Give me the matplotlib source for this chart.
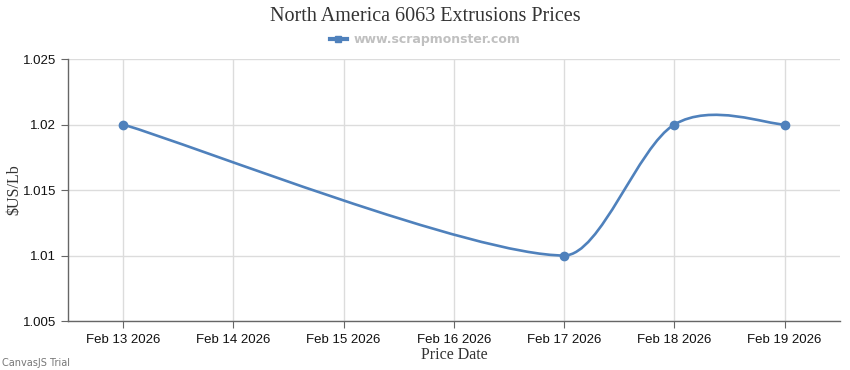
import numpy as np
import matplotlib.pyplot as plt
from matplotlib.path import Path
from matplotlib.patches import PathPatch
from matplotlib.lines import Line2D

# data
tick_days = [13, 14, 15, 16, 17, 18, 19]
tick_labels = ["Feb {} 2026".format(d) for d in tick_days]
price_days = [13, 17, 18, 19]
prices = [1.02, 1.01, 1.02, 1.02]

line_color = '#4F81BC'


def spline_path(xs, ys):
    # catmull-rom style bezier, handles kept inside each segment
    pts = np.column_stack([xs, ys]).astype(float)
    n = len(pts)
    verts = [pts[0]]
    codes = [Path.MOVETO]

    def handle(k, seg_dx):
        d = (pts[min(k + 1, n - 1)] - pts[max(k - 1, 0)]) / 6.0
        lim = seg_dx / 3.0
        if abs(d[0]) > lim:
            d = d * lim / abs(d[0])
        return d

    for i in range(1, n):
        a = i - 1
        dx = pts[i][0] - pts[a][0]
        verts += [pts[a] + handle(a, dx), pts[i] - handle(i, dx), pts[i]]
        codes += [Path.CURVE4] * 3
    return Path(verts, codes)


fig = plt.figure(figsize=(8.5, 3.7), dpi=100)
ax = fig.add_axes([0.08, 0.1324, 0.908, 0.7081])

ax.add_patch(PathPatch(spline_path(price_days, prices), facecolor='none',
                       edgecolor=line_color, linewidth=1.9, zorder=3))
ax.plot(price_days, prices, 'o', color=line_color, markersize=6, zorder=4)

ax.set_xlim(12.5, 19.5)
ax.set_ylim(1.005, 1.025)
ax.set_xticks(tick_days)
ax.set_xticklabels(tick_labels)
ax.set_yticks([1.005, 1.01, 1.015, 1.02, 1.025])
ax.set_yticklabels(['1.005', '1.01', '1.015', '1.02', '1.025'])

ax.grid(True, color='#dcdcdc', linewidth=1)
ax.set_axisbelow(True)
for s in ['top', 'right']:
    ax.spines[s].set_visible(False)
for s in ['left', 'bottom']:
    ax.spines[s].set_color('#666666')
    ax.spines[s].set_linewidth(1)
ax.tick_params(axis='both', colors='#666666', length=5, labelcolor='#111111',
               labelsize=9.5)
ax.tick_params(axis='x', pad=4)
for lab in ax.get_xticklabels() + ax.get_yticklabels():
    lab.set_family('Liberation Sans')

ax.set_xlabel('Price Date', family='Liberation Serif', fontsize=11.5,
              color='#333333', labelpad=1)
ax.set_ylabel('$US/Lb', family='Liberation Serif', fontsize=11.5,
              color='#333333', labelpad=0)

fig.text(0.5, 0.955, 'North America 6063 Extrusions Prices', ha='center',
         va='center', family='Liberation Serif', fontsize=14.5, color='#333333')

# legend entry
leg_handle = Line2D([], [], color=line_color, linewidth=3, marker='s',
                    markersize=5)
fig.legend([leg_handle], ['www.scrapmonster.com'], loc='center',
           bbox_to_anchor=(0.5, 0.892), frameon=False, handlelength=1.4,
           handletextpad=0.5,
           prop={'family': 'DejaVu Sans', 'weight': 'bold', 'size': 9},
           labelcolor='#c0c0c0')

fig.text(0.002, 0.02, 'CanvasJS Trial', ha='left', va='center',
         family='DejaVu Sans', fontsize=7, color='#777777')

fig.savefig('out.png', dpi=100)
